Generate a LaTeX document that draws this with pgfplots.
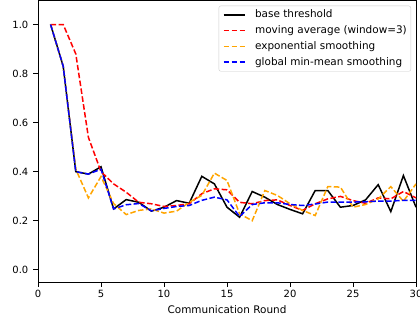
\documentclass[border=0pt]{standalone}
\usepackage{pgfplots}
\pgfplotsset{compat=1.18}
\usepackage{fontspec}
\setmainfont{DejaVu Sans}
\definecolor{mplorange}{HTML}{FFA500}
\definecolor{legedge}{HTML}{CCCCCC}
\tikzset{mpldash/.style={line width=1.5bp, dash pattern=on 5.55bp off 2.4bp}}
\begin{document}
\begin{tikzpicture}
\begin{axis}[
  scale only axis,
  width=378bp, height=282bp,
  xmin=0, xmax=30, ymin=-0.05, ymax=1.1,
  xtick={0,5,10,15,20,25,30},
  ytick={0,0.2,0.4,0.6,0.8,1.0},
  yticklabel style={xshift=-1.5bp, /pgf/number format/.cd,fixed,fixed zerofill,precision=1},
  /pgf/number format/assume math mode=true,
  tick align=outside,
  major tick length=4.7bp,
  xtick pos=bottom, ytick pos=left,
  tick style={black, line width=0.8bp},
  axis line style={line width=0.8bp},
  tick label style={font=\fontsize{10}{12}\selectfont},
  label style={font=\fontsize{10.5}{12.6}\selectfont},
  xlabel={Communication Round},
  xlabel style={yshift=-1bp},
  legend cell align=left,
  legend style={at={(1,1)}, anchor=north east, xshift=-5bp, yshift=-5.7bp,
    draw=legedge, rounded corners=2bp, font=\fontsize{10.5}{12.6}\selectfont,
    inner xsep=4bp, inner ysep=4bp,
    nodes={inner sep=0pt, text height=7.8bp, text depth=2.2bp},
    row sep=5.8bp, column sep=9bp},
  legend image code/.code={\draw[#1, line width=1.6bp] (0bp,0bp) -- (21.6bp,0bp);},
]
\addplot[black, solid, line width=1.5bp] coordinates {
(1,1.0)(2,0.83)(3,0.40)(4,0.39)(5,0.42)(6,0.248)(7,0.286)(8,0.275)(9,0.239)(10,0.255)
(11,0.282)(12,0.271)(13,0.381)(14,0.35)(15,0.255)(16,0.214)(17,0.319)(18,0.296)(19,0.266)(20,0.246)
(21,0.228)(22,0.323)(23,0.323)(24,0.255)(25,0.262)(26,0.285)(27,0.347)(28,0.237)(29,0.384)(30,0.255)};
\addlegendentry{base threshold}
\addplot[red, mpldash] coordinates {
(1,1.0)(2,1.0)(3,0.88)(4,0.54)(5,0.40)(6,0.35)(7,0.316)(8,0.275)(9,0.269)(10,0.258)
(11,0.262)(12,0.269)(13,0.31)(14,0.33)(15,0.326)(16,0.275)(17,0.269)(18,0.282)(19,0.285)(20,0.262)
(21,0.242)(22,0.269)(23,0.289)(24,0.299)(25,0.282)(26,0.271)(27,0.293)(28,0.289)(29,0.319)(30,0.293)};
\addlegendentry{moving average (window=3)}
\addplot[mplorange, mpldash] coordinates {
(1,1.0)(2,0.83)(3,0.41)(4,0.293)(5,0.38)(6,0.27)(7,0.225)(8,0.242)(9,0.248)(10,0.231)
(11,0.239)(12,0.275)(13,0.303)(14,0.394)(15,0.364)(16,0.228)(17,0.2)(18,0.323)(19,0.303)(20,0.269)
(21,0.242)(22,0.221)(23,0.339)(24,0.337)(25,0.255)(26,0.266)(27,0.289)(28,0.339)(29,0.279)(30,0.35)};
\addlegendentry{exponential smoothing}
\addplot[blue, mpldash] coordinates {
(1,1.0)(2,0.83)(3,0.40)(4,0.39)(5,0.41)(6,0.248)(7,0.265)(8,0.27)(9,0.24)(10,0.25)
(11,0.258)(12,0.262)(13,0.283)(14,0.296)(15,0.285)(16,0.217)(17,0.266)(18,0.273)(19,0.273)(20,0.266)
(21,0.262)(22,0.268)(23,0.276)(24,0.276)(25,0.276)(26,0.277)(27,0.28)(28,0.28)(29,0.283)(30,0.283)};
\addlegendentry{global min-mean smoothing}
\end{axis}
\path (current axis.south west) +(-38bp,-38bp) coordinate (bbA);
\path (current axis.north east) +(4bp,0bp) coordinate (bbB);
\pgfresetboundingbox
\path (bbA) rectangle (bbB);
\end{tikzpicture}
\end{document}
